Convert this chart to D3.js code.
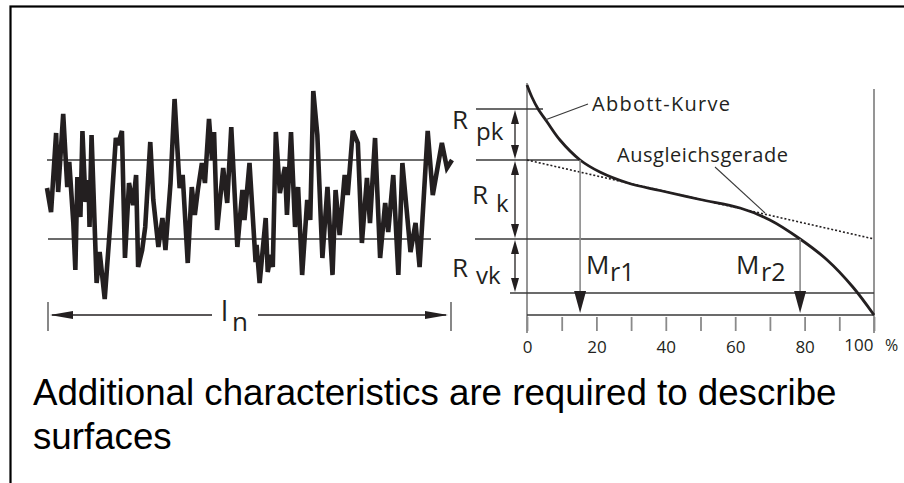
<!DOCTYPE html>
<html lang="en">
<head>
<meta charset="utf-8">
<title>Abbott-Kurve</title>
<script src="https://cdn.jsdelivr.net/npm/d3@7"></script>
<style>
  body { margin: 0; background: #fff; }
  .lbl { font-family: "Open Sans", sans-serif; fill: #231f20; }
  .axis line { stroke: #8a8a8a; stroke-width: 1.8; }
  .axis text { font-family: "Open Sans", sans-serif; font-size: 17px; fill: #231f20; }
  .caption { font-family: "Liberation Sans", Arial, sans-serif; font-size: 36.7px; fill: #000; }
</style>
</head>
<body>
<script>
// surface profile (position along trace, height in µm)
var profilePos = [0,4,9,11,16,20,22,26,28,30, 33,35,38,41,42,44,49,52,57,62,
  68,70,74,77,81,85,88,90,94,97, 102,105,110,114,117,122,126,131,134,139,
  143,146,149,153,156,160,163,165,168,174, 178,182,188,193,195,200,206,207,210,216,
  218,221,223,226,230,235,237,241,245,248, 252,257,260,263,267,272,277,282,285,289,
  294,297,302,307,311,316,319,324,329,334, 337,342,347,351,359,364,368,376,381,390,
  395,400];
var profileHeight = [12.7,10.3,18.2,12.3,20.1,12.8,15.3,9.2,4.5,13.8, 9.8,18.4,11.3,13.5,8.8,18.0,3.2,6.3,1.6,8.5,
  17.7,17.0,18.4,5.7,13.2,11.0,14.0,4.8,6.5,8.8, 17.3,11.5,6.8,9.7,6.5,13.2,21.6,12.7,14.0,5.2,
  12.8,10.0,12.5,15.2,13.2,19.6,15.5,18.3,8.5,14.7, 11.2,18.8,6.8,12.5,9.5,15.2,5.3,7.0,3.2,9.7,
  4.3,6.0,4.8,18.3,12.2,14.8,10.0,18.3,8.8,12.8, 4.0,11.5,9.5,22.4,18.0,5.7,12.8,4.0,12.5,8.0,
  14.0,12.0,18.4,17.2,7.2,13.7,9.2,17.7,5.7,11.2, 8.3,14.0,4.0,15.2,6.3,9.2,4.8,18.4,12.0,17.2,
  14.7,15.5];

// Abbott curve (material share %, height µm)
var abbottShare  = [0, 1.4, 3.2, 5.8, 9.5, 15.3, 21, 29.1, 38.3, 49.9, 61.4, 70, 78.7, 86.5, 93.9, 100];
var abbottHeight = [23, 21.8, 20.6, 19.3, 17.5, 15.5, 14.3, 13.2, 12.45, 11.55, 10.7, 9.5, 7.6, 5.5, 2.8, 0];

// Ausgleichsgerade end points
var lineShare = [0, 100];
var lineHeight = [15.5, 7.6];

// levels: top of Rpk, top of Rk, bottom of Rk, bottom of Rvk
var levels = [20.6, 15.5, 7.6, 2.2];
var mrValues = [15.3, 78.7];
var tickValues = [0,10,20,30,40,50,60,70,80,90,100];
var tickLabels = [0,20,40,60,80,100];

var W = 904, H = 483;
var svg = d3.select("body").append("svg").attr("width", W).attr("height", H);

// frame
svg.append("rect").attr("x", 10.5).attr("y", 6.5).attr("width", 1000).attr("height", 1000)
  .attr("fill", "none").attr("stroke", "#000").attr("stroke-width", 2.2);

var y = d3.scaleLinear().domain([0, 23]).range([315, 85]);
var xp = d3.scaleLinear().domain([0, 400]).range([47, 452]);
var xa = d3.scaleLinear().domain([0, 100]).range([527, 874]);

function tri(x, yy, dir, len, half) {
  var p;
  if (dir == "up") p = [[x, yy], [x - half, yy + len], [x + half, yy + len]];
  if (dir == "down") p = [[x, yy], [x - half, yy - len], [x + half, yy - len]];
  if (dir == "left") p = [[x, yy], [x + len, yy - half], [x + len, yy + half]];
  if (dir == "right") p = [[x, yy], [x - len, yy - half], [x - len, yy + half]];
  svg.append("path").attr("d", "M" + p.join("L") + "Z").attr("fill", "#231f20");
}
function seg(x1, y1, x2, y2, col, w) {
  svg.append("line").attr("x1", x1).attr("y1", y1).attr("x2", x2).attr("y2", y2)
    .attr("stroke", col).attr("stroke-width", w);
}
function label(x, yy, size, txt) {
  return svg.append("text").attr("class", "lbl").attr("x", x).attr("y", yy).attr("font-size", size).text(txt);
}

// ---- left: profile ----
seg(47, y(levels[1]), 430, y(levels[1]), "#3a3a3a", 1.4);
seg(48, y(levels[2]), 431, y(levels[2]), "#3a3a3a", 1.4);

var profLine = d3.line().x(function(d) { return xp(d[0]); }).y(function(d) { return y(d[1]); });
svg.append("path").datum(d3.zip(profilePos, profileHeight)).attr("d", profLine)
  .attr("fill", "none").attr("stroke", "#231f20").attr("stroke-width", 4.6)
  .attr("stroke-linejoin", "miter").attr("stroke-miterlimit", 3);

// l_n dimension
seg(xp(0) + 1, 302, xp(0) + 1, 331, "#555", 1.4);
seg(xp(400) - 1, 302, xp(400) - 1, 331, "#555", 1.4);
seg(52, 315, 212, 315, "#231f20", 1.4);
seg(258, 315, 446, 315, "#231f20", 1.4);
tri(50, 315, "left", 23, 4);
tri(448, 315, "right", 23, 4);
label(221, 321, 28, "l");
label(232, 331, 26, "n");

// ---- right: Abbott diagram ----
seg(xa(0), 83, xa(0), 333, "#8a8a8a", 1.8);
seg(xa(100), 89, xa(100), 333, "#8a8a8a", 1.8);

seg(476, y(levels[0]), 543, y(levels[0]), "#3a3a3a", 1.3);
seg(476, y(levels[1]), xa(mrValues[0]), y(levels[1]), "#3a3a3a", 1.3);
seg(475, y(levels[2]), xa(mrValues[1]), y(levels[2]), "#3a3a3a", 1.3);
seg(510, y(levels[3]), xa(100), y(levels[3]), "#3a3a3a", 1.3);
seg(xa(0), y(0), xa(100), y(0), "#3a3a3a", 1.3);

// axis ticks
var axis = d3.axisBottom(xa).tickValues(tickValues).tickSize(14).tickPadding(10)
  .tickFormat(function(d) { return tickLabels.indexOf(d) >= 0 ? d : ""; });
var ax = svg.append("g").attr("class", "axis").attr("transform", "translate(0,317)").call(axis);
ax.select(".domain").remove();
ax.selectAll("text").filter(function(d) { return d == 100; })
  .attr("text-anchor", "end").attr("x", -1).attr("dy", "0.6em");
label(885, 351, 16, "%");

// Ausgleichsgerade (dotted)
var aLine = d3.line().x(function(d) { return xa(d[0]); }).y(function(d) { return y(d[1]); });
svg.append("path").datum(d3.zip(lineShare, lineHeight)).attr("d", aLine)
  .attr("fill", "none").attr("stroke", "#231f20").attr("stroke-width", 1.6)
  .attr("stroke-dasharray", "2,2");

// Abbott curve
var abLine = d3.line().curve(d3.curveCatmullRom).x(function(d) { return xa(d[0]); }).y(function(d) { return y(d[1]); });
svg.append("path").datum(d3.zip(abbottShare, abbottHeight)).attr("d", abLine)
  .attr("fill", "none").attr("stroke", "#231f20").attr("stroke-width", 2.8);

// Mr arrows
mrValues.forEach(function(m, i) {
  var x = xa(m), top = y(levels[i + 1]);
  seg(x, top, x, 300, "#8a8a8a", 1.6);
  tri(x, 313, "down", 22, 6);
});

// R dimension arrows
var ax0 = 515;
for (var i = 0; i < 3; i++) {
  var t = y(levels[i]), b = y(levels[i + 1]);
  seg(ax0, t + 8, ax0, b - 8, "#231f20", 1.3);
  tri(ax0, t + 1, "up", 14, 4);
  tri(ax0, b - 1, "down", 14, 4);
}

// labels
label(452, 129, 26, "R"); label(476, 140, 24, "pk");
label(472, 204, 26, "R"); label(496, 212, 24, "k");
label(452, 277, 26, "R"); label(476, 284, 24, "vk");
label(586, 274, 26, "M"); label(610, 281, 25, "r1");
label(736, 274, 26, "M"); label(761, 281, 25, "r2");

label(592, 111, 20, "Abbott-Kurve").attr("textLength", 138).attr("lengthAdjust", "spacing");
label(617, 162, 20, "Ausgleichsgerade").attr("textLength", 171).attr("lengthAdjust", "spacing");
seg(545, 120, 588, 104, "#3a3a3a", 1.1);
seg(715, 167, 765, 213, "#3a3a3a", 1.1);

// caption
svg.append("text").attr("class", "caption").attr("x", 33).attr("y", 405)
  .text("Additional characteristics are required to describe");
svg.append("text").attr("class", "caption").attr("x", 33).attr("y", 449).text("surfaces");
</script>
</body>
</html>
